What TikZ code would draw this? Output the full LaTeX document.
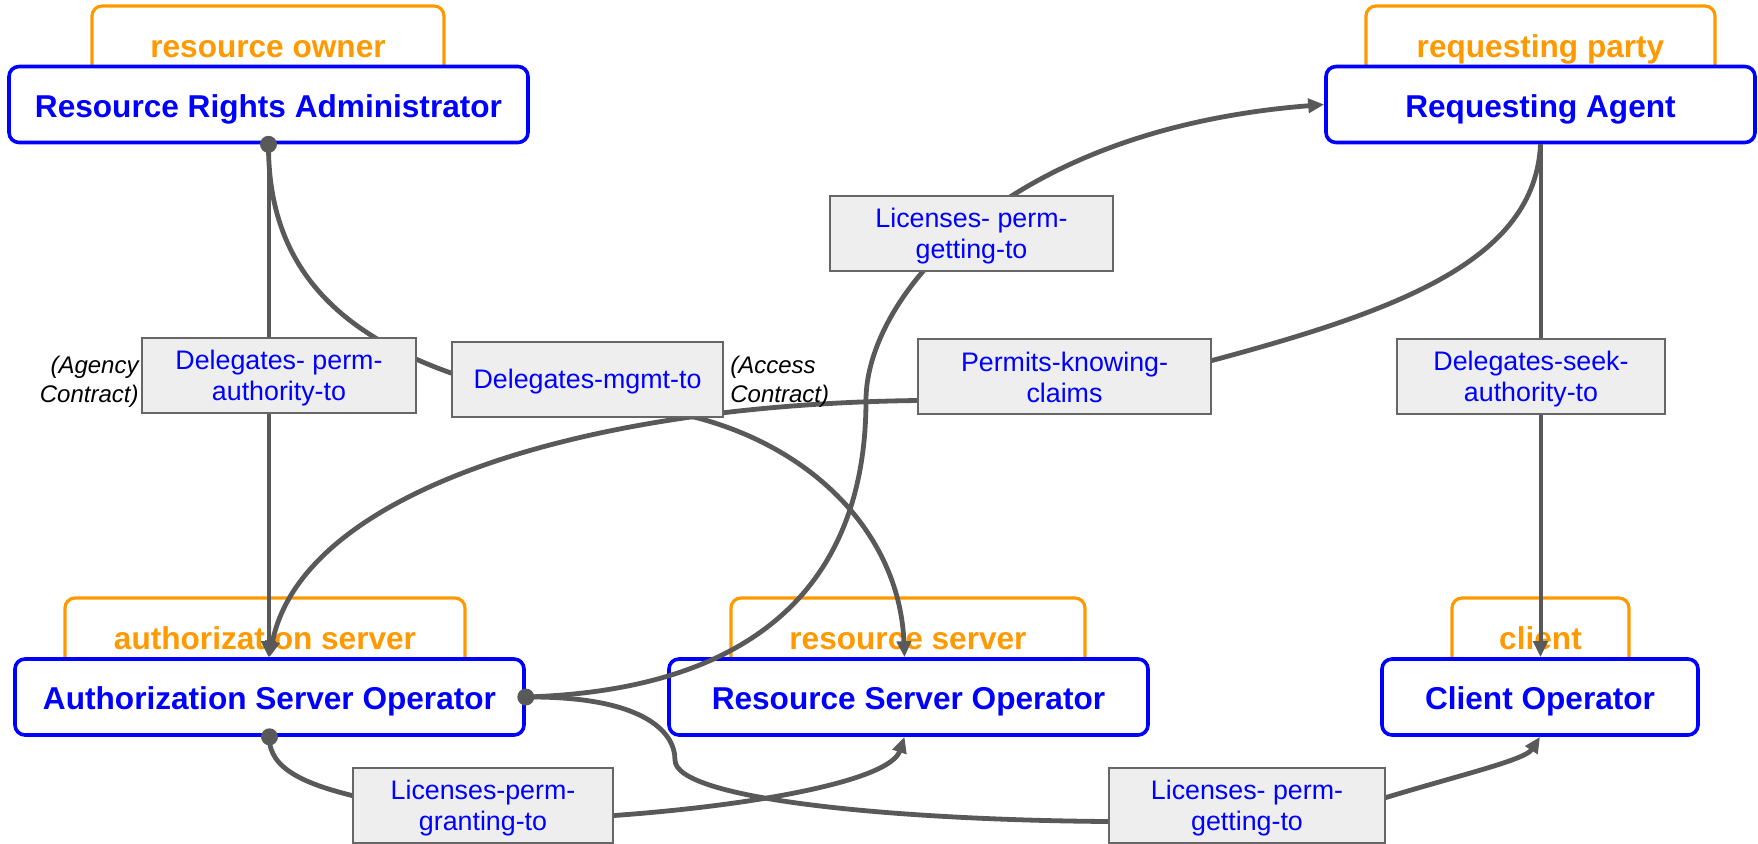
\documentclass[tikz,border=0pt]{standalone}
\usepackage{fontspec}
\setmainfont{Liberation Sans}
\usetikzlibrary{arrows.meta,calc}
\definecolor{roleblue}{HTML}{0000FF}
\definecolor{tabgold}{HTML}{FF9900}
\definecolor{linkgray}{HTML}{595959}
\definecolor{boxfill}{HTML}{EEEEEE}
\definecolor{boxedge}{HTML}{666666}

% drawing order: role tabs, operator boxes, links, then labels on top
\pgfdeclarelayer{tabs}
\pgfdeclarelayer{roles}
\pgfdeclarelayer{links}
\pgfsetlayers{tabs,roles,links,main}

% two centred lines with fixed outer extent, so every label sits alike
\newcommand{\twoline}[2]{\rule{0pt}{12pt}#1\\#2\rule[-1.2pt]{0pt}{1.2pt}}

\begin{document}
\begin{tikzpicture}[x=0.5pt,y=-0.5pt,
  role/.style={draw=roleblue, line width=1.8pt, rounded corners=5pt, fill=white,
    text=roleblue, font=\fontsize{15.8}{19}\selectfont\bfseries,
    minimum height=38pt, inner sep=0pt, text height=12.5pt, text depth=0pt},
  tab/.style={draw=tabgold, line width=1.6pt, rounded corners=5pt,
    text=tabgold, font=\fontsize{15.8}{19}\selectfont\bfseries,
    minimum height=41pt, inner sep=0pt, text height=10pt, text depth=0pt},
  relbox/.style={draw=boxedge, line width=1pt, fill=boxfill, text=roleblue,
    font=\fontsize{13.4}{15.5}\selectfont, align=center,
    minimum height=37.5pt, inner sep=0pt},
  note/.style={font=\fontsize{12}{14.5}\selectfont\itshape, inner sep=0pt},
  link/.style={draw=linkgray, line width=2.4pt},
  straight/.style={draw=linkgray, line width=2pt},
  tip/.style={-{Triangle[length=8pt,width=7pt]}},
  dot/.style={circle, fill=linkgray, inner sep=0pt, minimum size=8.5pt}
]
\useasboundingbox (0,0) rectangle (1758,843);

% role tabs
\begin{pgfonlayer}{tabs}
\node[tab, minimum width=176pt]   (tro)  at (268,47)    {resource owner};
\node[tab, minimum width=174.5pt] (trp)  at (1540.5,47) {requesting party};
\node[tab, minimum width=200pt]   (tas)  at (265,639)   {authorization server};
\node[tab, minimum width=177pt]   (trs)  at (908,639)   {resource server};
\node[tab, minimum width=88.5pt]  (tcl)  at (1540.5,639){client};
\end{pgfonlayer}

% operators
\begin{pgfonlayer}{roles}
\node[role, minimum width=259.5pt] (rra) at (268.5,104.5) {Resource Rights Administrator};
\node[role, minimum width=214.5pt] (ra)  at (1540.5,104.5) {Requesting Agent};
\node[role, minimum width=254.5pt] (aso) at (269.5,697) {Authorization Server Operator};
\node[role, minimum width=239.5pt] (rso) at (908.5,697) {Resource Server Operator};
\node[role, minimum width=158pt]   (co)  at (1540,697) {Client Operator};
\end{pgfonlayer}

% relationship labels
\node[relbox, minimum width=141.5pt] (lgt) at (971.5,233.5) {\twoline{Licenses- perm-}{getting-to}};
\node[relbox, minimum width=137pt]   (dpa) at (279,375.5) {\twoline{Delegates- perm-}{authority-to}};
\node[relbox, minimum width=135.5pt, text height=9.5pt, text depth=0pt] (dmt) at (587.5,379) {Delegates-mgmt-to};
\node[relbox, minimum width=146.5pt] (pkc) at (1064.5,376.5) {\twoline{Permits-knowing-}{claims}};
\node[relbox, minimum width=134pt]   (dsa) at (1531,376.5) {\twoline{Delegates-seek-}{authority-to}};
\node[relbox, minimum width=130pt]   (lpg) at (483,805.5) {\twoline{Licenses-perm-}{granting-to}};
\node[relbox, minimum width=138pt]   (lgb) at (1247,805.5) {\twoline{Licenses- perm-}{getting-to}};

% links, passing behind the labels
\begin{pgfonlayer}{links}
\draw[straight, tip] (rra.south) -- (rra.south |- aso.north);
\draw[straight, tip] (ra.south) -- (ra.south |- co.north);

\draw[link, tip] (rra.south) .. controls (268,260) and (330,330) .. ([yshift=3pt]dmt.west)
  -- ([xshift=-14pt]dmt.south east)
  .. controls (820,450) and (900,540) .. ([xshift=-2pt]rso.north);

\draw[link, tip] (ra.south) .. controls (1535,260) and (1400,310) .. ([yshift=8pt]pkc.east)
  -- ([yshift=-12pt]pkc.west)
  .. controls (560,405) and (300,500) .. (aso.north);

\draw[link, tip] (aso.east) .. controls (760,690) and (866,580) .. (866,400)
  .. controls (866,300) and (1000,130) .. (ra.west);

\draw[link, tip] (aso.east) .. controls (640,696) and (675,730) .. (675,760)
  .. controls (675,800) and (900,820) .. ([yshift=-8pt]lgb.west)
  -- ([yshift=4pt]lgb.east)
  .. controls (1460,775) and (1525,760) .. (co.south);

\draw[link, tip] (aso.south) .. controls (268,770) and (310,785) .. ([yshift=5pt]lpg.west)
  -- ([yshift=-5pt]lpg.east)
  .. controls (760,805) and (890,780) .. ([xshift=-2pt]rso.south);
\end{pgfonlayer}

% link origins
\node[dot] (d1) at (rra.south) {};
\node[dot] (d2) at (aso.east) {};
\node[dot] (d3) at (aso.south) {};

% contract notes
\node[note, anchor=east, align=right] (agency) at (139,382) {(Agency\\Contract)};
\node[note, anchor=west, align=left]  (access) at (730,382) {(Access\\Contract)};
\end{tikzpicture}
\end{document}
